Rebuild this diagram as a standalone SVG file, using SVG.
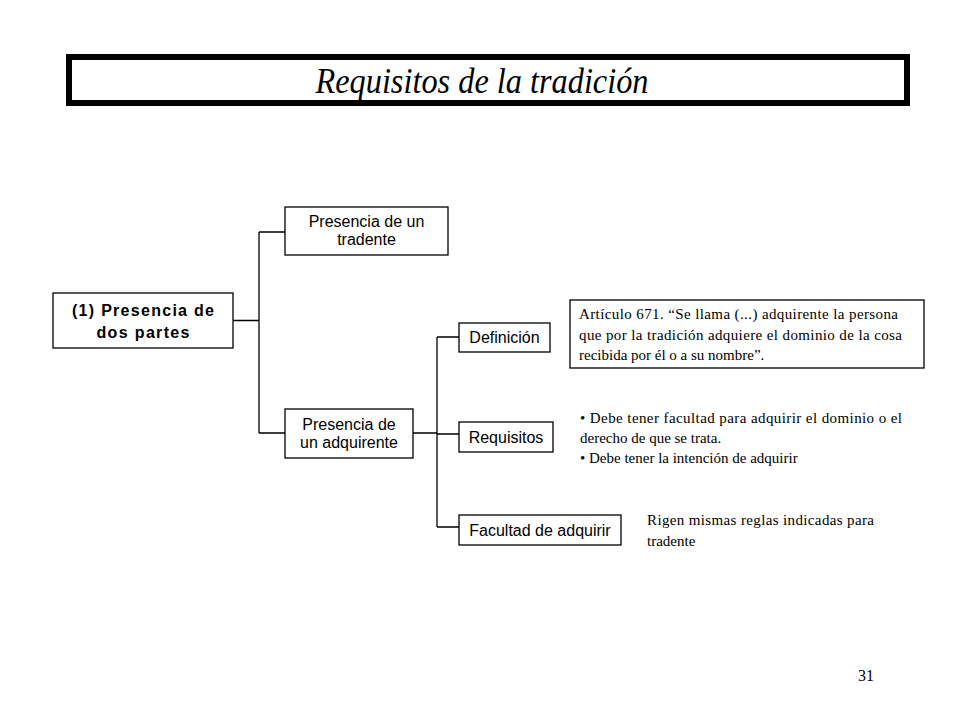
<svg xmlns="http://www.w3.org/2000/svg" width="960" height="720" viewBox="0 0 960 720">
<style>
.box{fill:#fff;stroke:#000;stroke-width:1.3}
.sans{font-family:"Liberation Sans",Arial,sans-serif;font-size:16px;fill:#000}
.serif{font-family:"Liberation Serif","Times New Roman",serif;font-size:15px;fill:#000}
.conn{fill:none;stroke:#000;stroke-width:1.3}
</style>
<rect width="960" height="720" fill="#fff"/>
<g id="title">
<rect x="69" y="57" width="838" height="46" fill="#fff" stroke="#000" stroke-width="6"/>
<text x="482" y="93" text-anchor="middle" font-family="Liberation Serif,'Times New Roman',serif" font-style="italic" font-size="35" textLength="333" lengthAdjust="spacingAndGlyphs">Requisitos de la tradición</text>
</g>
<g id="connectors">
<path class="conn" d="M233 320.5H259M259 232V433M259 232H285M259 433H285"/>
<path class="conn" d="M413 433H437M437 337V527M437 337H459M437 434H459M437 527H459"/>
</g>
<g id="n-main">
<rect class="box" x="53" y="293" width="180" height="55"/>
<text class="sans" x="143" y="316" text-anchor="middle" font-weight="bold" font-size="19.5" textLength="142" lengthAdjust="spacing">(1) Presencia de</text>
<text class="sans" x="143" y="338" text-anchor="middle" font-weight="bold" font-size="19.5" textLength="93" lengthAdjust="spacing">dos partes</text>
</g>
<g id="n-tradente">
<rect class="box" x="285" y="207" width="163" height="48"/>
<text class="sans" x="366.5" y="227" text-anchor="middle">Presencia de un</text>
<text class="sans" x="366.5" y="245" text-anchor="middle">tradente</text>
</g>
<g id="n-adquirente">
<rect class="box" x="285" y="409" width="128" height="49"/>
<text class="sans" x="349" y="430" text-anchor="middle">Presencia de</text>
<text class="sans" x="349" y="448" text-anchor="middle">un adquirente</text>
</g>
<g id="n-definicion">
<rect class="box" x="459" y="323" width="91" height="29"/>
<text class="sans" x="504.5" y="343" text-anchor="middle">Definición</text>
</g>
<g id="n-requisitos">
<rect class="box" x="459" y="422" width="94" height="30"/>
<text class="sans" x="506" y="443" text-anchor="middle">Requisitos</text>
</g>
<g id="n-facultad">
<rect class="box" x="459" y="515" width="162" height="30"/>
<text class="sans" x="540" y="536" text-anchor="middle">Facultad de adquirir</text>
</g>
<g id="n-articulo">
<rect class="box" x="570" y="300" width="354" height="68"/>
<text class="serif" x="579" y="319" textLength="319" lengthAdjust="spacing">Artículo 671. “Se llama (...) adquirente la persona</text>
<text class="serif" x="579" y="340" textLength="323" lengthAdjust="spacing">que por la tradición adquiere el dominio de la cosa</text>
<text class="serif" x="579" y="360">recibida por él o a su nombre”.</text>
</g>
<g id="n-req-text">
<text class="serif" x="580" y="423" textLength="322" lengthAdjust="spacing">• Debe tener facultad para adquirir el dominio o el</text>
<text class="serif" x="580" y="443">derecho de que se trata.</text>
<text class="serif" x="580" y="463">• Debe tener la intención de adquirir</text>
</g>
<g id="n-rigen">
<text class="serif" x="647" y="525" textLength="227" lengthAdjust="spacing">Rigen mismas reglas indicadas para</text>
<text class="serif" x="647" y="546">tradente</text>
</g>
<text x="858" y="681" font-family="Liberation Serif,'Times New Roman',serif" font-size="16">31</text>
</svg>
